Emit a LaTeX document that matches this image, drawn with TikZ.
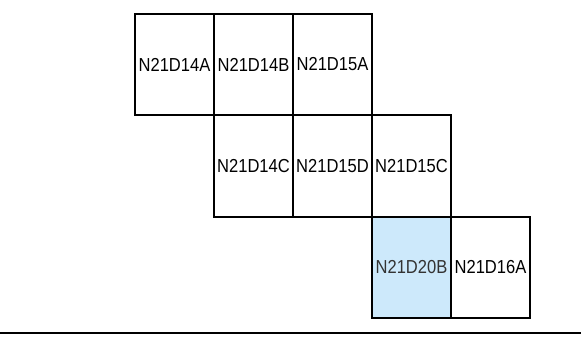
\documentclass[tikz,border=0pt]{standalone}
\usepackage{fontspec}
\setmainfont[FakeStretch=0.88]{Liberation Sans}
\definecolor{cellblue}{HTML}{CDE9FB}
\definecolor{graytext}{HTML}{333333}
\begin{document}
\begin{tikzpicture}[x=1pt,y=-1pt,
  cell/.style={draw=black,line width=1.6pt,minimum width=79pt,minimum height=101.5pt,inner sep=0pt,
    font=\fontsize{18.8}{20}\selectfont,anchor=center},
  hl/.style={fill=cellblue,text=graytext}]
\useasboundingbox (0,0) rectangle (581,341);
\node[cell] (a1) at (174.5,64.5) {N21D14A};
\node[cell] (a2) at (253.5,64.5) {N21D14B};
\node[cell] (a3) at (332.5,64.5) {N21D15A};
\node[cell] (b1) at (253.5,166) {N21D14C};
\node[cell] (b2) at (332.5,166) {N21D15D};
\node[cell] (b3) at (411.5,166) {N21D15C};
\node[cell,hl] (c1) at (411.5,267.5) {N21D20B};
\node[cell] (c2) at (490.5,267.5) {N21D16A};
\coordinate (l0) at (0,333);
\coordinate (l1) at (581,333);
\draw[line width=2pt] (l0) -- (l1);
\end{tikzpicture}
\end{document}
